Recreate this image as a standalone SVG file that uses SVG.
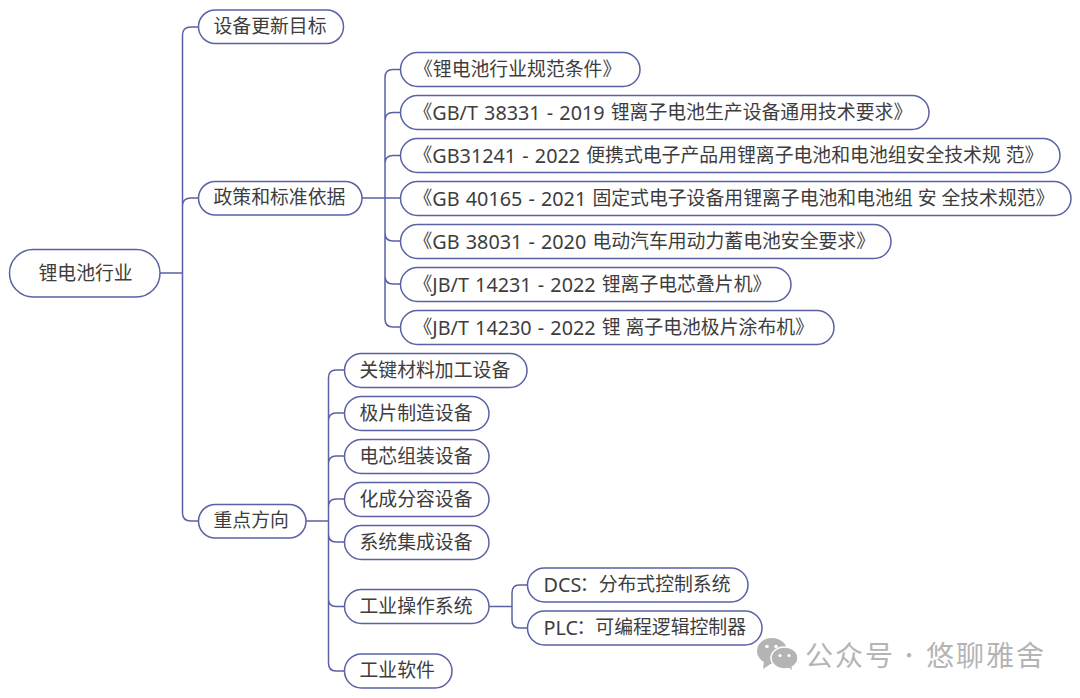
<svg xmlns="http://www.w3.org/2000/svg" width="1080" height="698" viewBox="0 0 1080 698">
<style>
.n{fill:#fff;stroke:#5a62a5;stroke-width:1.5}
.c{fill:none;stroke:#5a62a5;stroke-width:1.5}
.t{font-family:"Noto Sans","Noto Sans CJK SC",sans-serif;font-size:18.85px;fill:#3d3d3d;dominant-baseline:central;transform:translateY(-1px)}
.l{font-size:19.8px;word-spacing:1px}
.w{font-family:"Noto Sans CJK SC",sans-serif;font-size:28px;fill:#b4b4b4;dominant-baseline:central}
</style>
<rect width="1080" height="698" fill="#fff"/>
<g id="connectors">
<path class="c" d="M160 273H182.5M182.5 35Q182.5 27 191 27H198.5M182.5 35V513Q182.5 521 191 521H198.5M182.5 206Q182.5 198 191 198H198.5"/>
<path class="c" d="M362 198H400M385 77.500Q385 69.500 393 69.500H400M385 77.500V319Q385 327 393 327H400M385 120.500Q385 112.500 393 112.500H400M385 163.500Q385 155.500 393 155.500H400M385 233Q385 241 393 241H400M385 276Q385 284 393 284H400"/>
<path class="c" d="M306 521H328.500M328.500 378Q328.500 370 336 370H344M328.500 378V663Q328.500 671 336 671H344M328.500 421Q328.500 413 336 413H344M328.500 464Q328.500 456 336 456H344M328.500 507Q328.500 499 336 499H344M328.500 534Q328.500 542 336 542H344M328.500 599Q328.500 606.500 336 606.500H344"/>
<path class="c" d="M489 606.500H512M512 593Q512 585 519 585H527M512 593V620Q512 628 519 628H527"/>
</g>
<g id="root"><rect class="n" x="9.500" y="249.500" width="150.500" height="47.500" rx="23.700"/><text class="t" x="38.500" y="274">锂电池行业</text></g>
<g id="n1"><rect class="n" x="198.500" y="10" width="145" height="33.500" rx="16.700"/><text class="t" x="213.500" y="27">设备更新目标</text></g>
<g id="n2"><rect class="n" x="198.500" y="181.500" width="163.500" height="33.500" rx="16.700"/><text class="t" x="213.500" y="198">政策和标准依据</text></g>
<g id="n3"><rect class="n" x="198.500" y="504.500" width="107.500" height="33.500" rx="16.700"/><text class="t" x="213.500" y="521">重点方向</text></g>
<g id="p1"><rect class="n" x="400.500" y="52.500" width="239.500" height="34" rx="17"/><text class="t" x="414" y="69.500">《锂电池行业规范条件》</text></g>
<g id="p2"><rect class="n" x="400.500" y="95.500" width="528.500" height="34" rx="17"/><text class="t" x="413.500" y="112.500">《<tspan class="l">GB/T 38331 - 2019 </tspan>锂离子电池生产设备通用技术要求》</text></g>
<g id="p3"><rect class="n" x="400.500" y="138.500" width="659.500" height="34" rx="17"/><text class="t" x="413.500" y="155.500">《<tspan class="l">GB31241 - 2022 </tspan>便携式电子产品用锂离子电池和电池组安全技术规 范》</text></g>
<g id="p4"><rect class="n" x="400.500" y="181.500" width="670.500" height="34" rx="17"/><text class="t" x="413.500" y="198.500">《<tspan class="l">GB 40165 - 2021 </tspan>固定式电子设备用锂离子电池和电池组 安 全技术规范》</text></g>
<g id="p5"><rect class="n" x="400.500" y="224.500" width="490.500" height="34" rx="17"/><text class="t" x="413.500" y="241.500">《<tspan class="l">GB 38031 - 2020 </tspan>电动汽车用动力蓄电池安全要求》</text></g>
<g id="p6"><rect class="n" x="400.500" y="267.500" width="390.500" height="34" rx="17"/><text class="t" x="413.500" y="284.500">《<tspan class="l">JB/T 14231 - 2022 </tspan>锂离子电芯叠片机》</text></g>
<g id="p7"><rect class="n" x="400.500" y="310.500" width="433.500" height="34" rx="17"/><text class="t" x="413.500" y="327.500">《<tspan class="l">JB/T 14230 - 2022 </tspan>锂 离子电池极片涂布机》</text></g>
<g id="d1"><rect class="n" x="344.500" y="353.500" width="182.500" height="34" rx="17"/><text class="t" x="359.500" y="370.500">关键材料加工设备</text></g>
<g id="d2"><rect class="n" x="344.500" y="396.500" width="144.500" height="34" rx="17"/><text class="t" x="359.500" y="413.500">极片制造设备</text></g>
<g id="d3"><rect class="n" x="344.500" y="439.500" width="144.500" height="34" rx="17"/><text class="t" x="359.500" y="456.500">电芯组装设备</text></g>
<g id="d4"><rect class="n" x="344.500" y="482.500" width="144.500" height="34" rx="17"/><text class="t" x="359.500" y="499.500">化成分容设备</text></g>
<g id="d5"><rect class="n" x="344.500" y="525.500" width="144.500" height="34" rx="17"/><text class="t" x="359.500" y="542.500">系统集成设备</text></g>
<g id="d6"><rect class="n" x="344.500" y="589.500" width="144.500" height="34" rx="17"/><text class="t" x="359.500" y="606.500">工业操作系统</text></g>
<g id="d7"><rect class="n" x="344.500" y="654" width="107.500" height="34" rx="17"/><text class="t" x="359.500" y="671">工业软件</text></g>
<g id="s1"><rect class="n" x="527.500" y="568" width="220.500" height="34" rx="17"/><text class="t" x="543.500" y="585"><tspan class="l">DCS</tspan><tspan dx="-1.500">：分布式控制系统</tspan></text></g>
<g id="s2"><rect class="n" x="527.500" y="611" width="234.500" height="34" rx="17"/><text class="t" x="543.500" y="628"><tspan class="l">PLC</tspan><tspan dx="-1.500">：可编程逻辑控制器</tspan></text></g>
<g id="watermark">
<ellipse cx="772" cy="651" rx="15" ry="13" fill="#b4b4b4"/>
<path d="M764 661L763 669L772 663Z" fill="#b4b4b4"/>
<ellipse cx="784.500" cy="658" rx="13.500" ry="11" fill="#b4b4b4" stroke="#fff" stroke-width="1.500"/>
<path d="M788 667L792 670L791 664Z" fill="#b4b4b4"/>
<circle cx="767" cy="646.500" r="1.800" fill="#fff"/><circle cx="776" cy="646.500" r="1.800" fill="#fff"/>
<circle cx="780" cy="655.500" r="1.600" fill="#fff"/><circle cx="789" cy="655.500" r="1.600" fill="#fff"/>
<text class="w" x="805" y="654" letter-spacing="2">公众号</text>
<text class="w" x="899" y="654" style="font-size:20px">·</text>
<text class="w" x="926" y="654" letter-spacing="2">悠聊雅舍</text>
</g>
</svg>
